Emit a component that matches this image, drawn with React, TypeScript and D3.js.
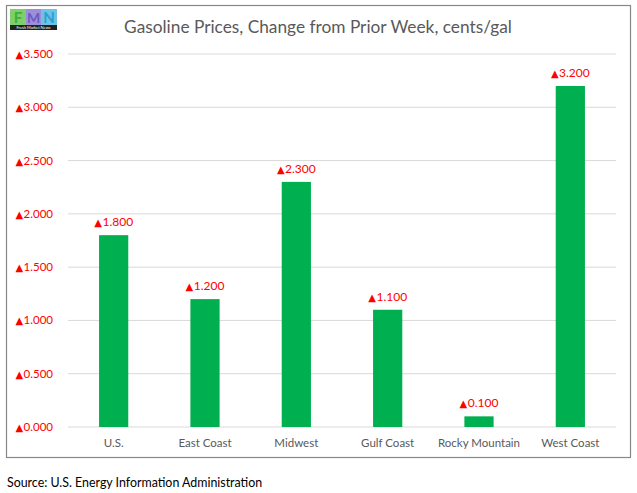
import * as d3 from "d3"

const regions = ["U.S.", "East Coast", "Midwest", "Gulf Coast", "Rocky Mountain", "West Coast"]
const changes = [1.8, 1.2, 2.3, 1.1, 0.1, 3.2]
const yTicks = [0, 0.5, 1, 1.5, 2, 2.5, 3, 3.5]

const W = 637
const H = 493
const font = "Lato, 'Open Sans', sans-serif"

// red up-triangle + value, like the spreadsheet's custom number format
const UpValue = ({ v }: { v: number }) => (
  <>
    <tspan fontFamily="'DejaVu Sans', sans-serif" fontSize={10}>{"\u25B2"}</tspan>
    <tspan dx={0.5}>{v.toFixed(3)}</tspan>
  </>
)

const App = () => {
  const margin = { top: 54, right: 21, bottom: 66, left: 68 }
  const plotW = W - margin.left - margin.right
  const plotH = H - margin.top - margin.bottom

  const x = d3.scaleBand().domain(regions).range([0, plotW]).paddingInner(0.68).paddingOuter(0.34)
  const y = d3.scaleLinear().domain([0, 3.5]).range([plotH, 0])

  return (
    <svg width={W} height={H} style={{ position: "absolute", left: 0, top: 0, fontFamily: font }}>
      <rect x={0} y={0} width={W} height={H} fill="#fff" />
      {/* chart frame */}
      <rect x={6.5} y={5.5} width={624} height={452} fill="#fff" stroke="#888" strokeWidth={1.2} />

      {/* logo */}
      <g transform="translate(10,9)">
        <rect width={47} height={21} fill="#e4eef0" />
        <rect x={0} y={0} width={16} height={16} fill="#7dcf6b" />
        <rect x={16} y={0} width={15} height={16} fill="#9c8fd8" />
        <rect x={31} y={0} width={16} height={16} fill="#6cc3e6" />
        <text x={8} y={13.5} textAnchor="middle" fontSize={15} fontWeight="bold" fill="#3fae3a">F</text>
        <text x={23.5} y={13.5} textAnchor="middle" fontSize={14} fontWeight="bold" fill="#6a5bc4">M</text>
        <text x={39} y={13.5} textAnchor="middle" fontSize={15} fontWeight="bold" fill="#2b9fd0">N</text>
        <rect x={0} y={16} width={47} height={5} fill="#222" />
        <text x={23.5} y={20.3} textAnchor="middle" fontSize={4} fill="#fff">Fresh Market News</text>
      </g>

      <text x={318} y={33} textAnchor="middle" fontSize={17.3} fill="#595959">
        Gasoline Prices, Change from Prior Week, cents/gal
      </text>

      <g transform={`translate(${margin.left},${margin.top})`}>
        {yTicks.map(t => (
          <g key={t}>
            <line x1={0} x2={plotW} y1={y(t)} y2={y(t)} stroke="#d9d9d9" strokeWidth={1} />
            <text x={-15} y={y(t)} dy="0.35em" textAnchor="end" fontSize={11.5} fill="#ff0000">
              <UpValue v={t} />
            </text>
          </g>
        ))}

        {regions.map((r, i) => (
          <g key={r}>
            <rect
              x={x(r)}
              y={y(changes[i])}
              width={x.bandwidth()}
              height={plotH - y(changes[i])}
              fill="#00b050"
            />
            <text
              x={(x(r) || 0) + x.bandwidth() / 2}
              y={y(changes[i]) - 9}
              textAnchor="middle"
              fontSize={12}
              fill="#ff0000"
            >
              <UpValue v={changes[i]} />
            </text>
            <text
              x={(x(r) || 0) + x.bandwidth() / 2}
              y={plotH + 20}
              textAnchor="middle"
              fontSize={11.5}
              fill="#595959"
            >
              {r}
            </text>
          </g>
        ))}
      </g>

      <text x={7} y={487} fontSize={12.4} fill="#000">
        Source: U.S. Energy Information Administration
      </text>
    </svg>
  )
}

export default App
